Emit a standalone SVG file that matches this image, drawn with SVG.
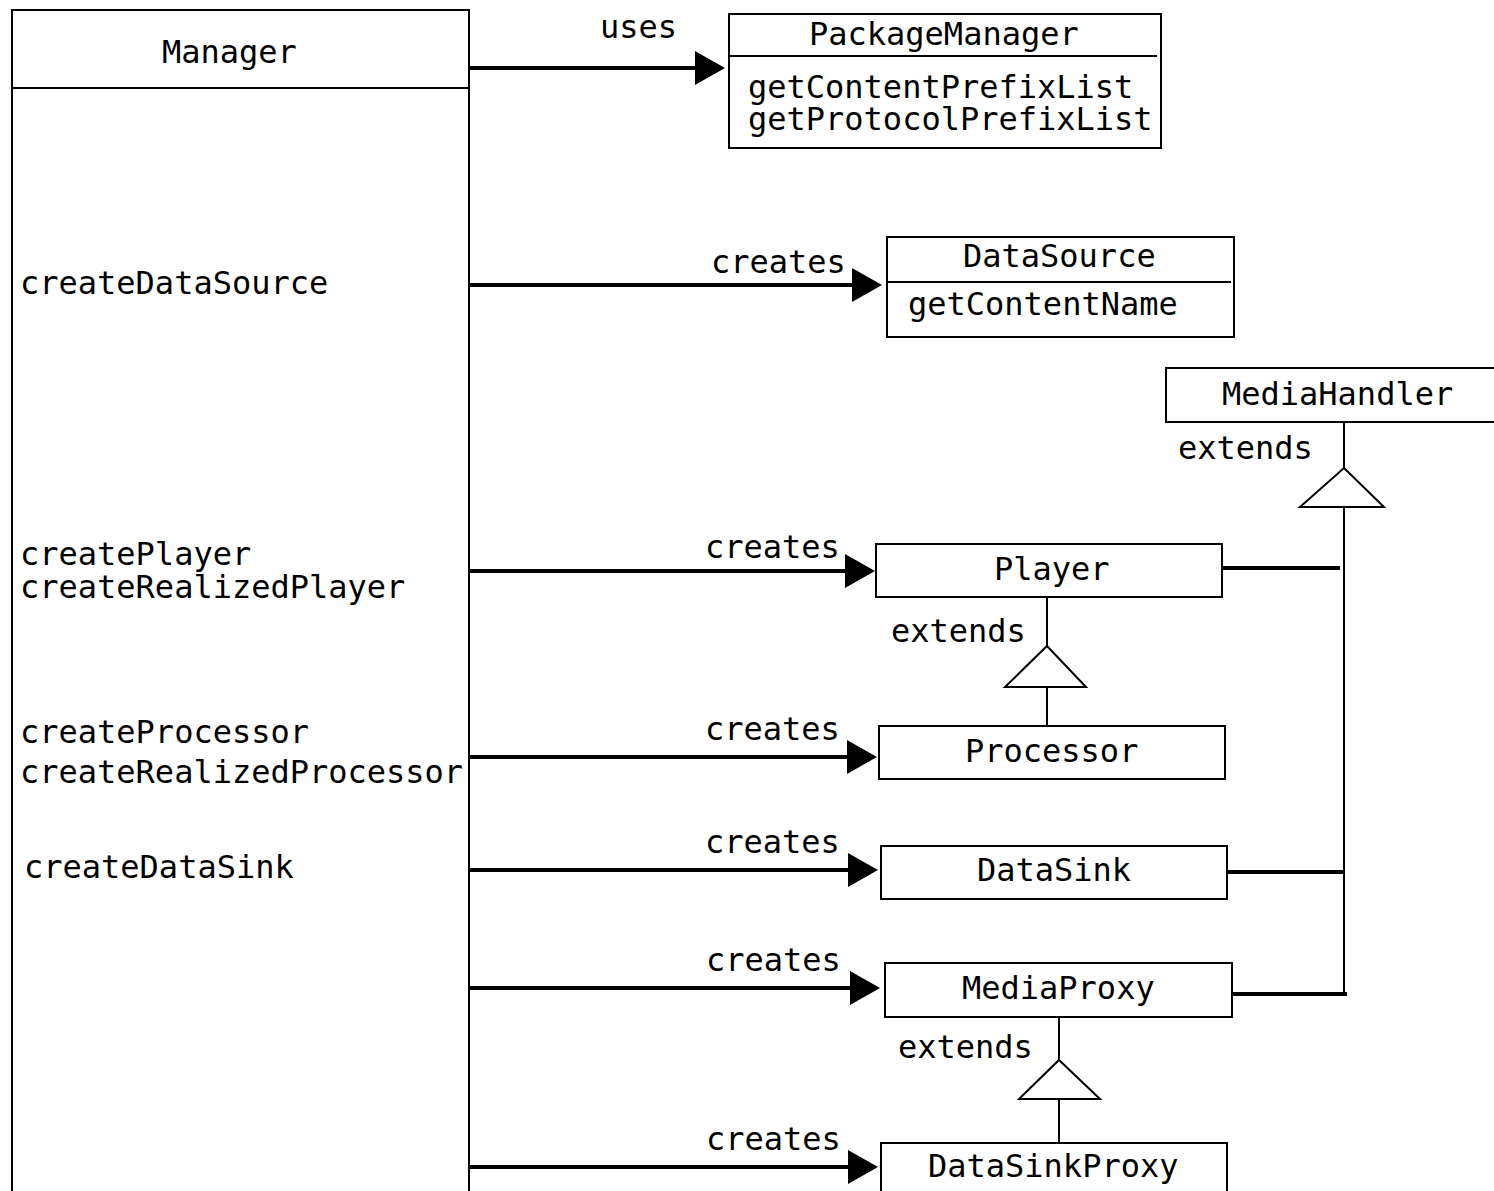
<svg xmlns="http://www.w3.org/2000/svg" width="1494" height="1191" viewBox="0 0 1494 1191">
  <style>
    .box { fill: #fff; stroke: #000; stroke-width: 2; }
    .div { stroke: #000; stroke-width: 2; }
    .t { font-family: "DejaVu Sans Mono", "Liberation Mono", monospace; font-size: 32px; fill: #000; }
    .assoc { stroke: #000; stroke-width: 4; fill: none; }
    .gen { stroke: #000; stroke-width: 2; fill: none; }
    .tri { fill: #fff; stroke: #000; stroke-width: 2; }
  </style>
  <defs>
    <marker id="arrow" viewBox="0 0 30 34" refX="20" refY="17" markerWidth="30" markerHeight="34" markerUnits="userSpaceOnUse" orient="auto">
      <path d="M0,0 L30,17 L0,34 z" fill="#000"/>
    </marker>
  </defs>
  <rect width="1494" height="1191" fill="#fff"/>

  <!-- connectors -->
  <g id="connectors">
    <line class="assoc" x1="469" y1="68" x2="715" y2="68" marker-end="url(#arrow)"/>
    <line class="assoc" x1="469" y1="285" x2="872" y2="285" marker-end="url(#arrow)"/>
    <line class="assoc" x1="464" y1="571" x2="865" y2="571" marker-end="url(#arrow)"/>
    <line class="assoc" x1="464" y1="757" x2="867" y2="757" marker-end="url(#arrow)"/>
    <line class="assoc" x1="466" y1="870" x2="868" y2="870" marker-end="url(#arrow)"/>
    <line class="assoc" x1="469" y1="988" x2="870" y2="988" marker-end="url(#arrow)"/>
    <line class="assoc" x1="469" y1="1167" x2="868" y2="1167" marker-end="url(#arrow)"/>

    <!-- MediaHandler generalization trunk -->
    <line class="gen" x1="1344" y1="422" x2="1344" y2="468"/>
    <line class="gen" x1="1344" y1="507" x2="1344" y2="994"/>
    <polygon class="tri" points="1344,468 1384,507 1300,507"/>
    <line class="assoc" x1="1222" y1="568" x2="1340" y2="568"/>
    <line class="assoc" x1="1227" y1="872" x2="1344" y2="872"/>
    <line class="assoc" x1="1228" y1="994" x2="1347" y2="994"/>

    <!-- Processor extends Player -->
    <line class="gen" x1="1047" y1="597" x2="1047" y2="646"/>
    <line class="gen" x1="1047" y1="687" x2="1047" y2="726"/>
    <polygon class="tri" points="1047,646 1086,687 1005,687"/>

    <!-- DataSinkProxy extends MediaProxy -->
    <line class="gen" x1="1059" y1="1017" x2="1059" y2="1060"/>
    <line class="gen" x1="1059" y1="1099" x2="1059" y2="1143"/>
    <polygon class="tri" points="1059,1060 1100,1099 1019,1099"/>

    <text class="t" x="600" y="38">uses</text>
    <text class="t" x="711" y="273">creates</text>
    <text class="t" x="705" y="558">creates</text>
    <text class="t" x="705" y="740">creates</text>
    <text class="t" x="705" y="853">creates</text>
    <text class="t" x="706" y="971">creates</text>
    <text class="t" x="706" y="1150">creates</text>
    <text class="t" x="1178" y="459">extends</text>
    <text class="t" x="891" y="642">extends</text>
    <text class="t" x="898" y="1058">extends</text>
  </g>

  <g id="manager">
    <rect class="box" x="12" y="10" width="457" height="1200"/>
    <line class="div" x1="12" y1="88" x2="469" y2="88"/>
    <text class="t" x="162" y="63">Manager</text>
    <text class="t" x="20" y="294">createDataSource</text>
    <text class="t" x="20" y="565">createPlayer</text>
    <text class="t" x="20" y="598">createRealizedPlayer</text>
    <text class="t" x="20" y="743">createProcessor</text>
    <text class="t" x="20" y="783">createRealizedProcessor</text>
    <text class="t" x="24" y="878">createDataSink</text>
  </g>

  <g id="packagemanager">
    <rect class="box" x="729" y="14" width="432" height="134"/>
    <line class="div" x1="729" y1="56" x2="1157" y2="56"/>
    <text class="t" x="809" y="45">PackageManager</text>
    <text class="t" x="748" y="98">getContentPrefixList</text>
    <text class="t" x="748" y="130">getProtocolPrefixList</text>
  </g>

  <g id="datasource">
    <rect class="box" x="887" y="237" width="347" height="100"/>
    <line class="div" x1="887" y1="282" x2="1231" y2="282"/>
    <text class="t" x="963" y="267">DataSource</text>
    <text class="t" x="908" y="315">getContentName</text>
  </g>

  <g id="mediahandler">
    <rect class="box" x="1166" y="368" width="340" height="54"/>
    <text class="t" x="1222" y="405">MediaHandler</text>
  </g>

  <g id="player">
    <rect class="box" x="876" y="544" width="346" height="53"/>
    <text class="t" x="994" y="580">Player</text>
  </g>

  <g id="processor">
    <rect class="box" x="879" y="726" width="346" height="53"/>
    <text class="t" x="965" y="762">Processor</text>
  </g>

  <g id="datasink">
    <rect class="box" x="881" y="846" width="346" height="53"/>
    <text class="t" x="977" y="881">DataSink</text>
  </g>

  <g id="mediaproxy">
    <rect class="box" x="885" y="963" width="347" height="54"/>
    <text class="t" x="962" y="999">MediaProxy</text>
  </g>

  <g id="datasinkproxy">
    <rect class="box" x="881" y="1143" width="346" height="70"/>
    <text class="t" x="928" y="1177">DataSinkProxy</text>
  </g>
</svg>
